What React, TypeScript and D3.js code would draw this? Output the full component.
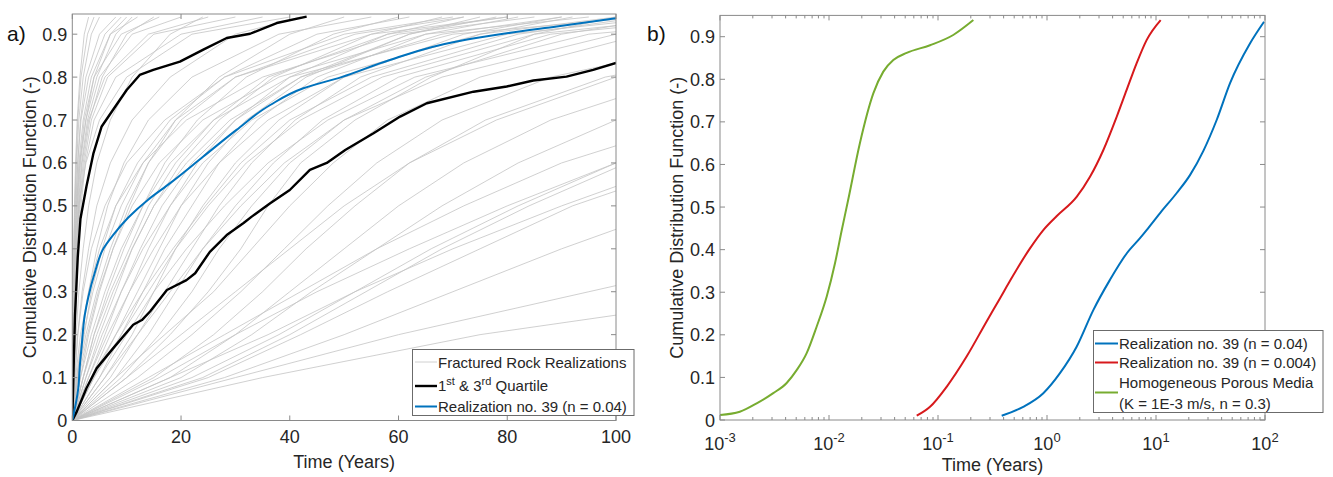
import React from 'react';
import * as d3 from 'd3';

// ---------- Panel a data ----------
const cdfLevels = [0, 0.1, 0.2, 0.3, 0.4, 0.5, 0.6, 0.7, 0.8, 0.9, 0.94];

// times (years) at which each fractured-rock realization reaches cdfLevels
const grayRealizationTimes: number[][] = [
  [0, 0.05, 0.1, 0.2, 0.3, 0.5, 0.8, 1.2, 2, 3.5, 5],
  [0, 0.1, 0.2, 0.35, 0.5, 0.7, 1.0, 1.5, 2.5, 5, 8],
  [0, 0.08, 0.15, 0.3, 0.45, 0.8, 1.2, 2, 3.5, 7, 12],
  [0, 0.1, 0.25, 0.4, 0.6, 0.9, 1.4, 2.2, 4, 9, 16],
  [0, 0.05, 0.12, 0.2, 0.3, 0.45, 0.7, 1.0, 1.6, 2.8, 4],
  [0, 0.15, 0.3, 0.5, 0.8, 1.2, 1.8, 3, 6, 14, 25],
  [0, 0.1, 0.2, 0.4, 0.7, 1.1, 1.7, 2.8, 5, 11, 20],
  [0, 0.2, 0.4, 0.6, 0.9, 1.4, 2.2, 3.5, 6.5, 15, 30],
  [0, 0.05, 0.1, 0.15, 0.25, 0.4, 0.6, 0.9, 1.4, 2.2, 3],
  [0, 0.1, 0.3, 0.5, 0.8, 1.3, 2.0, 3.2, 5.5, 10, 15],
  [0, 0.2, 0.35, 0.55, 0.8, 1.2, 2.5, 5, 10, 22, 40],
  [0, 0.1, 0.2, 0.3, 0.5, 0.8, 1.3, 2.5, 4.5, 8, 11],
  [0, 0.3, 0.5, 0.8, 1.1, 1.6, 2.4, 4, 8, 20, 35],
  [0, 0.15, 0.3, 0.5, 0.7, 1.0, 1.5, 2.5, 4, 7, 10],
  [0, 0.05, 0.15, 0.25, 0.4, 0.6, 1.0, 1.6, 3, 6, 9],
  [0, 0.3, 0.7, 1.2, 2, 3, 4.5, 7, 11, 18, 24],
  [0, 0.5, 1, 1.8, 3, 4.5, 7, 11, 18, 30, 42],
  [0, 0.8, 1.8, 3, 4.5, 6.5, 9.5, 14, 22, 38, 55],
  [0, 1, 2.2, 3.5, 5.5, 8, 12, 18, 28, 45, 62],
  [0, 0.4, 1, 2, 3.5, 6, 10, 17, 28, 50, 70],
  [0, 1.5, 3, 5, 7.5, 10.5, 14, 19, 27, 40, 50],
  [0, 2, 4, 6.5, 9.5, 13, 17, 23, 32, 48, 60],
  [0, 0.6, 1.5, 3, 5, 8, 13, 21, 35, 60, 85],
  [0, 2.5, 5, 8, 11, 15, 20, 27, 37, 55, 68],
  [0, 1.2, 2.8, 4.8, 7.5, 11, 16, 24, 38, 65, 95],
  [0, 3, 6, 9, 12.5, 16.5, 22, 30, 42, 62, 78],
  [0, 1, 2.5, 4.5, 7, 10, 14, 20, 30, 52, 72],
  [0, 3.5, 7, 10.5, 14, 18, 23, 30, 40, 58, 72],
  [0, 2, 4.5, 7.5, 11, 15, 21, 29, 42, 68, 90],
  [0, 4, 8, 12, 16, 20, 25, 32, 43, 62, 75],
  [0, 0.8, 2, 3.8, 6, 9, 13, 19, 30, 55, 80],
  [0, 5, 9, 13, 17, 22, 27, 34, 45, 65, 82],
  [0, 2.5, 5.5, 9, 13, 18, 24, 33, 47, 75, 100],
  [0, 6, 11, 15, 19, 24, 30, 38, 50, 72, 90],
  [0, 3, 6.5, 10.5, 15, 20, 27, 36, 50, 80, 110],
  [0, 1.5, 3.5, 6, 9, 13, 18, 26, 40, 70, 105],
  [0, 7, 12, 17, 22, 27, 33, 41, 53, 75, 92],
  [0, 4, 9, 14, 19, 25, 32, 42, 57, 85, 115],
  [0, 8, 14, 19, 24, 30, 37, 46, 60, 88, 120],
  [0, 5, 10, 15, 21, 28, 36, 47, 63, 95, 130],
  [0, 9, 16, 22, 27, 33, 40, 50, 65, 90, 110],
  [0, 2, 4, 7, 10.5, 14, 19, 26, 36, 58, 80],
  [0, 6, 12, 18, 24, 31, 39, 50, 68, 100, 135],
  [0, 10, 18, 25, 31, 36, 42, 52, 66, 85, 100],
  [0, 3.5, 8, 13, 18.5, 24.5, 31, 40, 55, 82, 105],
  [0, 8, 17, 26, 33, 40, 48, 58, 75, 105, 140],
  [0, 12, 22, 31, 39, 47, 56, 68, 88, 125, 170],
  [0, 15, 26, 35, 43, 52, 62, 76, 98, 140, 190],
  [0, 10, 20, 30, 40, 50, 62, 78, 100, 145, 200],
  [0, 18, 30, 40, 50, 60, 72, 88, 112, 160, 220],
  [0, 20, 33, 44, 56, 68, 82, 100, 130, 190, 260],
  [0, 14, 28, 42, 56, 72, 90, 115, 150, 220, 300],
  [0, 22, 38, 52, 66, 82, 100, 125, 160, 230, 300],
  [0, 25, 42, 58, 75, 92, 115, 145, 190, 270, 350],
  [0, 28, 50, 70, 90, 112, 140, 175, 225, 320, 400],
  [0, 30, 60, 95, 130, 170, 210, 260, 330, 450, 550],
  [0, 35, 75, 130, 190, 250, 320, 400, 500, 650, 800],
  [0, 16, 30, 45, 62, 80, 100, 125, 160, 220, 280],
  [0, 24, 40, 54, 68, 84, 102, 128, 165, 235, 310],
  [0, 18, 36, 52, 70, 90, 112, 140, 180, 250, 330],
];

const quartileFirst: [number, number][] = [
  [0, 0], [0.2, 0.1], [0.5, 0.246], [1.0, 0.38], [1.5, 0.47], [2.6, 0.545], [3.9, 0.623],
  [5.4, 0.685], [7.5, 0.724], [10, 0.77], [12.4, 0.805], [14.9, 0.817], [19.8, 0.836],
  [24.1, 0.864], [28.4, 0.891], [32.7, 0.901], [37.6, 0.926], [43.1, 0.941],
];

const quartileThird: [number, number][] = [
  [0, 0], [0.8, 0.02], [2.6, 0.075], [4.5, 0.122], [7.5, 0.168], [11.2, 0.223], [12.8, 0.234],
  [14.3, 0.254], [17.4, 0.304], [21, 0.327], [22.6, 0.343], [25.3, 0.393], [28.4, 0.432],
  [31.5, 0.46], [33, 0.475], [36.4, 0.506], [40, 0.537], [43.7, 0.584], [46.8, 0.6],
  [50.2, 0.63], [55.4, 0.669], [60.3, 0.708], [65.2, 0.739], [73.8, 0.766], [79.9, 0.778],
  [84.8, 0.792], [90.9, 0.801], [95.8, 0.817], [100, 0.833],
];

const realization39: [number, number][] = [
  [0, 0], [1.1, 0.075], [1.4, 0.13], [1.7, 0.17], [2.3, 0.246], [2.9, 0.285], [4.2, 0.347],
  [5.7, 0.4], [7.5, 0.432], [10.3, 0.473], [14, 0.515], [18, 0.553], [24.1, 0.615],
  [30.2, 0.677], [36.4, 0.735], [42.5, 0.774], [49.5, 0.8], [58.4, 0.84], [70.7, 0.883],
  [79.9, 0.902], [89.1, 0.918], [100, 0.937],
];

// ---------- Panel b data ----------
const porousMedia: [number, number][] = [
  [0.001, 0.012], [0.00152, 0.0195], [0.00217, 0.039], [0.00308, 0.063], [0.00409, 0.087],
  [0.00505, 0.117], [0.00624, 0.157], [0.0077, 0.219], [0.00953, 0.29], [0.01135, 0.368],
  [0.0131, 0.446], [0.015, 0.517], [0.0192, 0.65], [0.0255, 0.767], [0.0315, 0.818],
  [0.0389, 0.845], [0.0516, 0.862], [0.0845, 0.88], [0.138, 0.904], [0.211, 0.939],
];

const realization39n004: [number, number][] = [
  [0.0638, 0.01], [0.0845, 0.031], [0.12, 0.078], [0.183, 0.149], [0.28, 0.232], [0.371, 0.286],
  [0.458, 0.327], [0.698, 0.403], [0.925, 0.446], [1.23, 0.479], [1.87, 0.524], [2.48, 0.571],
  [3.29, 0.634], [4.36, 0.712], [5.38, 0.775], [6.65, 0.838], [8.2, 0.892], [11.04, 0.939],
];

const realization39n04: [number, number][] = [
  [0.384, 0.01], [0.605, 0.031], [0.925, 0.063], [1.315, 0.11], [1.87, 0.172], [2.66, 0.258],
  [3.78, 0.329], [5.38, 0.391], [7.13, 0.427], [8.2, 0.446], [10.9, 0.486], [15.5, 0.533],
  [20.5, 0.575], [27.2, 0.632], [36.1, 0.705], [47.8, 0.791], [72.8, 0.884], [98, 0.935],
];

const xTicksA = [0, 20, 40, 60, 80, 100];
const yTicks = [0, 0.1, 0.2, 0.3, 0.4, 0.5, 0.6, 0.7, 0.8, 0.9];
const xTickExpB = [-3, -2, -1, 0, 1, 2];

const FONT = '"Liberation Sans", Arial, Helvetica, sans-serif';
const AXIS = '#8a8a8a';
const TXT = '#262626';
const GRAY = '#c4c4c4';
const BLUE = '#0072BD';
const RED = '#D7191C';
const GREEN = '#77AC30';

export default function App() {
  const W = 1333, H = 477;
  const xA = d3.scaleLinear().domain([0, 100]).range([72.3, 616]);
  const yA = d3.scaleLinear().domain([0, 0.947]).range([420.5, 14]);
  const xB = d3.scaleLog().domain([1e-3, 1e2]).range([720, 1265]);
  const yB = d3.scaleLinear().domain([0, 0.95]).range([420, 15.4]);

  const lineA = d3.line<[number, number]>().x(d => xA(d[0])).y(d => yA(d[1]));
  const smoothA = d3.line<[number, number]>().x(d => xA(d[0])).y(d => yA(d[1])).curve(d3.curveMonotoneY);
  const lineB = d3.line<[number, number]>().x(d => xB(d[0])).y(d => yB(d[1])).curve(d3.curveMonotoneX);

  const grayPaths = grayRealizationTimes.map(ts =>
    lineA(ts.map((t, i) => [t, cdfLevels[i]] as [number, number])) as string);

  const [a0, a1] = xA.range();
  const [ab, at] = yA.range();
  const [b0, b1] = xB.range();
  const [bb, bt] = yB.range();

  const minorB: number[] = [];
  for (let k = -3; k < 2; k++) for (let m = 2; m <= 9; m++) minorB.push(m * Math.pow(10, k));

  const yLabel = 'Cumulative Distribution Function (-)';

  return (
    <svg width={W} height={H} style={{ position: 'absolute', left: 0, top: 0, background: '#fff' }}
      fontFamily={FONT}>
      <defs>
        <clipPath id="clipA"><rect x={a0} y={at} width={a1 - a0} height={ab - at} /></clipPath>
        <clipPath id="clipB"><rect x={b0} y={bt} width={b1 - b0} height={bb - bt} /></clipPath>
      </defs>
      <rect x={0} y={0} width={W} height={H} fill="#fff" />

      {/* ---------------- Panel a ---------------- */}
      <g clipPath="url(#clipA)">
        {grayPaths.map((p, i) => (
          <path key={i} d={p} fill="none" stroke={GRAY} strokeWidth={0.8} />
        ))}
        <path d={lineA(quartileFirst) as string} fill="none" stroke="#000" strokeWidth={2.4} strokeLinejoin="round" />
        <path d={lineA(quartileThird) as string} fill="none" stroke="#000" strokeWidth={2.4} strokeLinejoin="round" />
        <path d={smoothA(realization39) as string} fill="none" stroke={BLUE} strokeWidth={2} />
      </g>
      <rect x={a0} y={at} width={a1 - a0} height={ab - at} fill="none" stroke={AXIS} strokeWidth={1} />
      {xTicksA.map(t => (
        <g key={'xa' + t}>
          <line x1={xA(t)} x2={xA(t)} y1={ab} y2={ab - 5} stroke={AXIS} />
          <line x1={xA(t)} x2={xA(t)} y1={at} y2={at + 5} stroke={AXIS} />
          <text x={xA(t)} y={443} textAnchor="middle" fontSize={18} fill={TXT}>{t}</text>
        </g>
      ))}
      {yTicks.map(v => (
        <g key={'ya' + v}>
          <line x1={a0} x2={a0 + 5} y1={yA(v)} y2={yA(v)} stroke={AXIS} />
          <line x1={a1} x2={a1 - 5} y1={yA(v)} y2={yA(v)} stroke={AXIS} />
          <text x={a0 - 5} y={yA(v) + 6.5} textAnchor="end" fontSize={18} fill={TXT}>{v === 0 ? '0' : v.toFixed(1)}</text>
        </g>
      ))}
      <text x={(a0 + a1) / 2} y={468} textAnchor="middle" fontSize={18} fill={TXT}>Time (Years)</text>
      <text transform={`translate(36,${(at + ab) / 2}) rotate(-90)`} textAnchor="middle" fontSize={18} fill={TXT}>{yLabel}</text>
      <text x={7} y={41} fontSize={21} fill="#111">a)</text>

      {/* Legend a */}
      <g>
        <rect x={412.5} y={349.5} width={221.5} height={66} fill="#fff" stroke="#6b6b6b" strokeWidth={1} />
        <line x1={415} x2={437} y1={362} y2={362} stroke={GRAY} strokeWidth={0.8} />
        <text x={438} y={367.5} fontSize={15} fill={TXT}>Fractured Rock Realizations</text>
        <line x1={415} x2={437} y1={386} y2={386} stroke="#000" strokeWidth={2.4} />
        <text x={438} y={391} fontSize={15} fill={TXT}>
          1<tspan fontSize={11} dy={-6}>st</tspan><tspan dy={6}> &amp; 3</tspan><tspan fontSize={11} dy={-6}>rd</tspan><tspan dy={6}> Quartile</tspan>
        </text>
        <line x1={415} x2={437} y1={406.5} y2={406.5} stroke={BLUE} strokeWidth={2} />
        <text x={438} y={412} fontSize={15} fill={TXT}>Realization no. 39 (n = 0.04)</text>
      </g>

      {/* ---------------- Panel b ---------------- */}
      <g clipPath="url(#clipB)">
        <path d={lineB(porousMedia) as string} fill="none" stroke={GREEN} strokeWidth={2} />
        <path d={lineB(realization39n004) as string} fill="none" stroke={RED} strokeWidth={2} />
        <path d={lineB(realization39n04) as string} fill="none" stroke={BLUE} strokeWidth={2} />
      </g>
      <rect x={b0} y={bt} width={b1 - b0} height={bb - bt} fill="none" stroke={AXIS} strokeWidth={1} />
      {minorB.map((t, i) => (
        <g key={'mb' + i}>
          <line x1={xB(t)} x2={xB(t)} y1={bb} y2={bb - 3} stroke={AXIS} />
          <line x1={xB(t)} x2={xB(t)} y1={bt} y2={bt + 3} stroke={AXIS} />
        </g>
      ))}
      {xTickExpB.map(e => (
        <g key={'xb' + e}>
          <line x1={xB(Math.pow(10, e))} x2={xB(Math.pow(10, e))} y1={bb} y2={bb - 5} stroke={AXIS} />
          <line x1={xB(Math.pow(10, e))} x2={xB(Math.pow(10, e))} y1={bt} y2={bt + 5} stroke={AXIS} />
          <text x={xB(Math.pow(10, e))} y={450} textAnchor="middle" fontSize={18} fill={TXT}>
            10<tspan fontSize={13} dy={-8}>{e}</tspan>
          </text>
        </g>
      ))}
      {yTicks.map(v => (
        <g key={'yb' + v}>
          <line x1={b0} x2={b0 + 5} y1={yB(v)} y2={yB(v)} stroke={AXIS} />
          <line x1={b1} x2={b1 - 5} y1={yB(v)} y2={yB(v)} stroke={AXIS} />
          <text x={b0 - 5} y={yB(v) + 6.5} textAnchor="end" fontSize={18} fill={TXT}>{v === 0 ? '0' : v.toFixed(1)}</text>
        </g>
      ))}
      <text x={(b0 + b1) / 2} y={471} textAnchor="middle" fontSize={18} fill={TXT}>Time (Years)</text>
      <text transform={`translate(683,${(bt + bb) / 2}) rotate(-90)`} textAnchor="middle" fontSize={18} fill={TXT}>{yLabel}</text>
      <text x={647} y={41} fontSize={21} fill="#111">b)</text>

      {/* Legend b */}
      <g>
        <rect x={1093.5} y={330.5} width={229.5} height={82} fill="#fff" stroke="#6b6b6b" strokeWidth={1} />
        <line x1={1095} x2={1118} y1={343.5} y2={343.5} stroke={BLUE} strokeWidth={2} />
        <text x={1119} y={349} fontSize={15} fill={TXT}>Realization no. 39 (n = 0.04)</text>
        <line x1={1095} x2={1118} y1={362.5} y2={362.5} stroke={RED} strokeWidth={2} />
        <text x={1119} y={368} fontSize={15} fill={TXT}>Realization no. 39 (n = 0.004)</text>
        <line x1={1095} x2={1118} y1={392.5} y2={392.5} stroke={GREEN} strokeWidth={2} />
        <text x={1119} y={388} fontSize={15} fill={TXT}>Homogeneous Porous Media</text>
        <text x={1119} y={408.5} fontSize={15} fill={TXT}>(K = 1E-3 m/s, n = 0.3)</text>
      </g>
    </svg>
  );
}
